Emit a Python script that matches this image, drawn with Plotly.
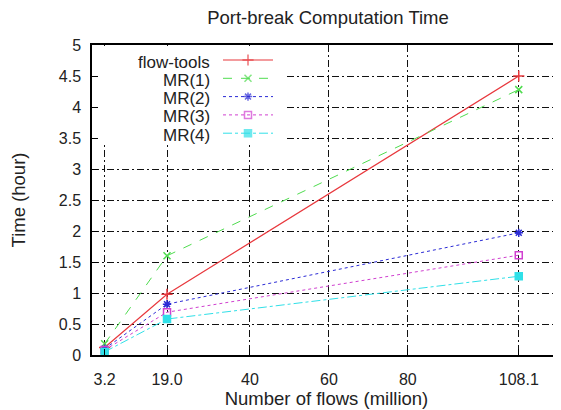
import plotly.graph_objects as go

flows = [3.2, 19.0, 108.1]
flow_tools = [0.12, 0.98, 4.50]
mr1 = [0.18, 1.60, 4.28]
mr2 = [0.10, 0.82, 1.97]
mr3 = [0.08, 0.69, 1.61]
mr4 = [0.05, 0.58, 1.27]

x_tickvals = [3.2, 19.0, 40, 60, 80, 108.1]
x_ticktext = ["3.2", "19.0", "40", "60", "80", "108.1"]
y_tickvals = [0, 0.5, 1, 1.5, 2, 2.5, 3, 3.5, 4, 4.5, 5]
y_ticktext = ["0", "0.5", "1", "1.5", "2", "2.5", "3", "3.5", "4", "4.5", "5"]

series = [
    ("flow-tools", flow_tools, "#e8383d", "solid", "cross-thin", 8, 1.2),
    ("MR(1)", mr1, "#4fdc4f", "dash", "x-thin", 7, 1.0),
    ("MR(2)", mr2, "#2b2bd6", "dot", "asterisk", 7, 1.0),
    ("MR(3)", mr3, "#d040d0", "dot", "square-open", 7, 1.0),
    ("MR(4)", mr4, "#30e0e8", "dashdot", "square", 7, 1.0),
]

# page body has an 8px margin; layout below is in figure pixels
OFF = 8
W, H = 561 - OFF, 410 - OFF
L, R, T, B = 92 - OFF, 0, 45 - OFF, 410 - 355
font = "Liberation Sans, Arial, sans-serif"

# custom gnuplot-style key (text right-aligned, sample to the right), figure pixels
KEY_TEXT_RIGHT = 212 - OFF
KEY_SAMPLE_X0, KEY_SAMPLE_X1 = 223 - OFF, 273 - OFF
KEY_Y0, KEY_DY = 60 - OFF, 18.3
KEY_BOX = (L + 1, T + 1, 284 - OFF, 145 - OFF)

fig = go.Figure()

for name, ys, color, dash, sym, size, lw in series:
    fig.add_trace(go.Scatter(
        x=flows, y=ys, name=name, mode="lines+markers",
        line=dict(color=color, width=lw, dash=dash),
        marker=dict(symbol=sym, size=size, color=color, line=dict(color=color, width=1.5)),
        showlegend=False,
    ))

bx0, by0, bx1, by1 = KEY_BOX
fig.add_trace(go.Scatter(
    x=[bx0, bx1, bx1, bx0, bx0], y=[by0, by0, by1, by1, by0],
    xaxis="x2", yaxis="y2", mode="lines", fill="toself", fillcolor="white",
    line=dict(width=0, color="white"), showlegend=False, hoverinfo="skip",
))

annotations = []
for i, (name, ys, color, dash, sym, size, lw) in enumerate(series):
    ky = KEY_Y0 + i * KEY_DY
    fig.add_trace(go.Scatter(
        x=[KEY_SAMPLE_X0, (KEY_SAMPLE_X0 + KEY_SAMPLE_X1) / 2, KEY_SAMPLE_X1],
        y=[ky, ky, ky], mode="lines+markers", xaxis="x2", yaxis="y2",
        line=dict(color=color, width=lw, dash=dash),
        marker=dict(symbol=sym, size=[0, size, 0], color=color,
                    line=dict(color=color, width=1.5)),
        showlegend=False, hoverinfo="skip",
    ))
    annotations.append(dict(
        x=KEY_TEXT_RIGHT, y=ky, xref="x2", yref="y2", text=name, showarrow=False,
        xanchor="right", yanchor="middle", yshift=-2, font=dict(size=17, color="#222"),
    ))

axis_common = dict(
    showgrid=True, gridcolor="#111", griddash="7px,3px,2px,3px", gridwidth=1.2,
    showline=True, linecolor="black", linewidth=1.5, mirror=True,
    ticks="inside", ticklen=6, tickcolor="black", zeroline=False, automargin=False,
    tickfont=dict(size=16, color="#222"),
)

fig.update_layout(
    width=W, height=H,
    margin=dict(l=L, r=R, t=T, b=B),
    paper_bgcolor="white", plot_bgcolor="white",
    font=dict(family=font, size=16, color="#222"),
    title=dict(text="Port-break Computation Time", x=(328 - OFF) / W, xanchor="center",
               y=1 - (18 - OFF) / H, yanchor="middle", font=dict(size=18.5, color="#222")),
    showlegend=False,
    xaxis=dict(axis_common, range=[0, 118.8], tickvals=x_tickvals, ticktext=x_ticktext,
               ticklabelstandoff=9,
               title=dict(text="Number of flows (million)", standoff=0,
                          font=dict(size=18.5))),
    yaxis=dict(axis_common, range=[0, 5], tickvals=y_tickvals, ticktext=y_ticktext,
               ticklabelstandoff=6,
               title=dict(text="Time (hour)", standoff=32, font=dict(size=18.5))),
    xaxis2=dict(overlaying="x", range=[L, W - R], visible=False, fixedrange=True),
    yaxis2=dict(overlaying="y", range=[H - B, T], visible=False, fixedrange=True),
    annotations=annotations,
)

fig.write_html("out.html")
